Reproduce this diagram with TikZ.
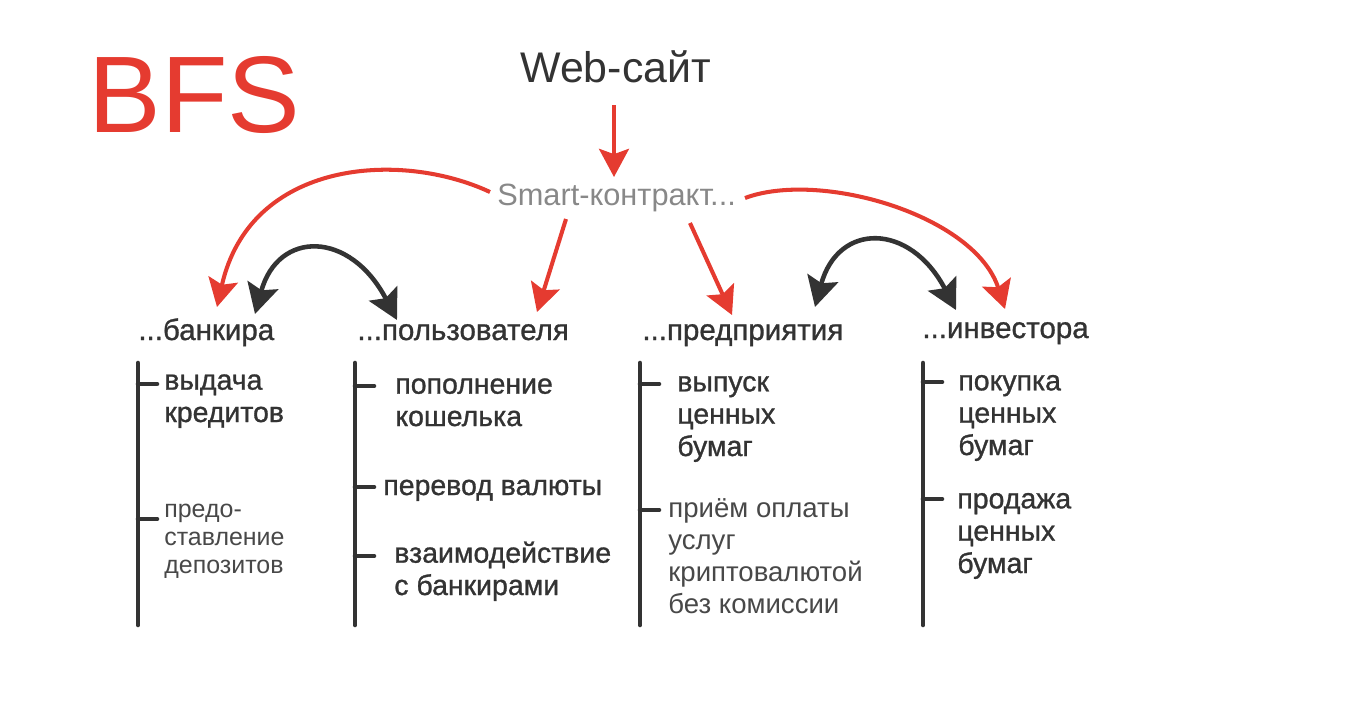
\documentclass[tikz,border=0pt]{standalone}
\usepackage{fontspec}
\setmainfont{Liberation Sans}
\newfontfamily\heavyfont[FakeBold=1]{Liberation Sans}
\usepackage{tikz}
\usetikzlibrary{arrows.meta, calc}
\definecolor{bfsred}{RGB}{229,59,48}
\definecolor{bfsdark}{RGB}{51,51,51}
\definecolor{bfsmid}{RGB}{72,72,72}
\definecolor{bfsgray}{RGB}{136,136,136}

\begin{document}
\begin{tikzpicture}[x=0.02cm, y=-0.02cm,
  head/.style={anchor=base west, inner sep=0pt, text=bfsdark, font=\heavyfont\fontsize{16.8pt}{20pt}\selectfont},
  item/.style={anchor=base west, inner sep=0pt, align=left, text=bfsdark, font=\heavyfont\fontsize{16.2pt}{18.4pt}\selectfont},
  lightitem/.style={item, text=bfsmid, font=\fontsize{15.7pt}{18.2pt}\selectfont},
  smallitem/.style={item, text=bfsmid, font=\fontsize{14.2pt}{15.9pt}\selectfont},
  redarrow/.style={draw=bfsred, line width=2.3pt, -{Stealth[length=16pt, width=17pt, inset=3pt]}},
  blackarrow/.style={draw=bfsdark, line width=2.6pt, {Stealth[length=17pt, width=18pt, inset=3pt]}-{Stealth[length=17pt, width=18pt, inset=3pt]}},
  bar/.style={draw=bfsdark, line width=2.6pt, line cap=round}
]
\useasboundingbox (0,0) rectangle (1362,721);

% Title and top
\node[anchor=base west, inner sep=0pt, text=bfsred, font=\fontsize{62pt}{62pt}\selectfont] (logo) at (88,132) {BFS};
\node[anchor=base west, inner sep=0pt, text=bfsdark, font=\fontsize{24.4pt}{28pt}\selectfont] (web) at (520,82) {Web-сайт};
\node[anchor=base west, inner sep=0pt, text=bfsgray, font=\fontsize{17.5pt}{20pt}\selectfont] (smart) at (497,205) {Smart-контракт...};

% Roles
\node[head] (bank) at (138,340) {...банкира};
\node[head] (user) at (357,340) {...пользователя};
\node[head] (firm) at (642,340) {...предприятия};
\node[head] (inv) at (922,338) {...инвестора};

% Bars
\foreach \bx in {138,355,640,923}
  \draw[bar] (\bx,363) -- (\bx,625);
\foreach \bx/\ty in {138/384, 138/519, 355/386, 355/487, 355/556, 640/384, 640/510, 923/382, 923/499}
  \draw[bar] (\bx,\ty) -- ++(19,0);

% Items (base = last line)
\node[item] (bank1) at (164,422) {выдача\\кредитов};
\node[smallitem] (bank2) at (164,573) {предо-\\ставление\\депозитов};
\node[item] (user1) at (395,426) {пополнение\\кошелька};
\node[item] (user2) at (383,495) {перевод валюты};
\node[item] (user3) at (394,595) {взаимодействие\\с банкирами};
\node[item] (firm1) at (677,456) {выпуск\\ценных\\бумаг};
\node[lightitem] (firm2) at (668,613) {приём оплаты\\услуг\\криптовалютой\\без комиссии};
\node[item] (inv1) at (958,455) {покупка\\ценных\\бумаг};
\node[item] (inv2) at (957,573) {продажа\\ценных\\бумаг};

% Red arrows
\draw[redarrow] ($(web.base west)+(94,23)$) -- ($(smart.base west)+(117,-28)$);
\draw[redarrow] ($(smart.base west)+(-7,-13)$) .. controls +(-90,-42) and +(33,-147) .. ($(bank.base west)+(79,-33)$);
\draw[redarrow] ($(smart.base west)+(69,14)$) -- ($(user.base west)+(180,-28)$);
\draw[redarrow] ($(smart.base west)+(193,18)$) -- ($(firm.base west)+(90,-25)$);
\draw[redarrow] ($(smart.base west)+(248,-7)$) .. controls +(75,-28) and +(-30,-94) .. ($(inv.base west)+(83,-29)$);

% Black arrows
\draw[blackarrow] ($(bank.base west)+(117,-26)$) .. controls +(23,-84) and +(-47,-90) .. ($(user.base west)+(40,-20)$);
\draw[blackarrow] ($(firm.base west)+(173,-33)$) .. controls +(23,-85) and +(-46,-88) .. ($(inv.base west)+(34,-28)$);
\end{tikzpicture}
\end{document}
